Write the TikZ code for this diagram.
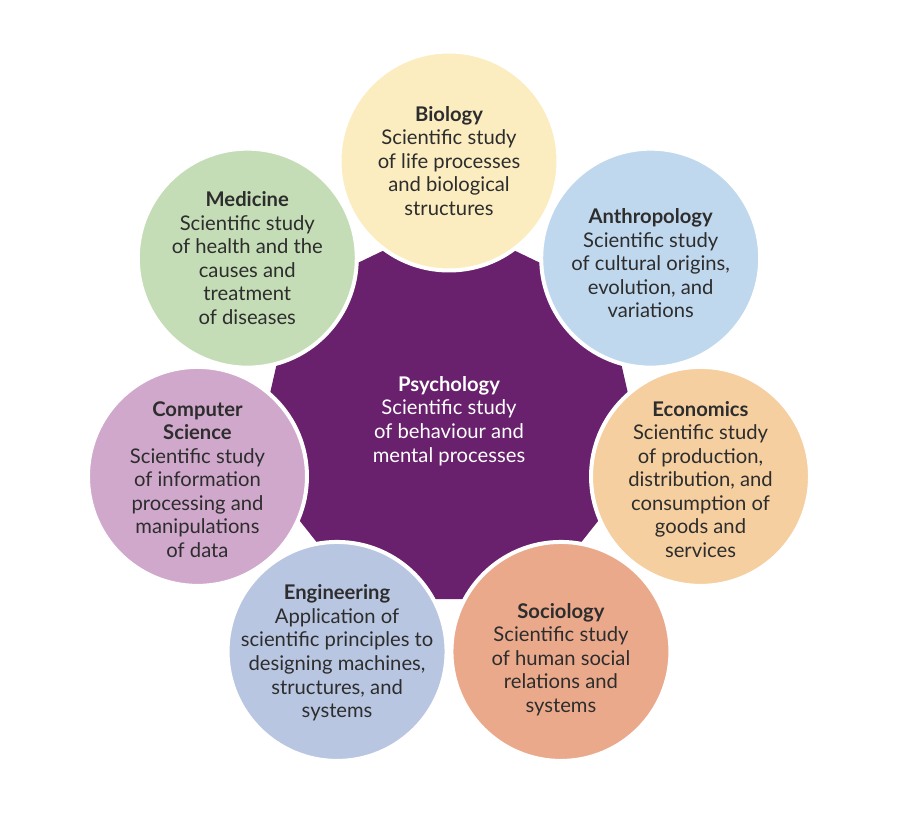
\documentclass[tikz,border=0pt]{standalone}
\usepackage{fontspec}
\setmainfont{Lato}
\usepackage{tikz}
\usetikzlibrary{shapes.geometric}
\definecolor{plum}{RGB}{105,32,109}
\definecolor{butter}{RGB}{251,237,192}
\definecolor{sky}{RGB}{192,216,238}
\definecolor{peach}{RGB}{245,207,160}
\definecolor{salmon}{RGB}{235,169,140}
\definecolor{periwinkle}{RGB}{185,198,226}
\definecolor{orchid}{RGB}{208,168,204}
\definecolor{sage}{RGB}{196,221,182}
\definecolor{inktext}{RGB}{45,45,45}

\begin{document}
\begin{tikzpicture}[
    disc/.style={circle, draw=white, line width=0.08cm, minimum size=4.38cm,
                 inner sep=0pt},
    blurb/.style={align=center, text=inktext, inner sep=0pt,
                  font=\fontsize{11.5}{13.4}\selectfont},
    core/.style={regular polygon, regular polygon sides=7, minimum size=8cm,
                 inner sep=0pt, outer sep=0pt, fill=plum}]
  \useasboundingbox[fill=white] (-8.98,-8.14) rectangle (9.06,8.38);
  % centre
  \node[core] (psych) at (0,0) {};
  \node[blurb, text=white] (psych-txt) at ([yshift=-0.04cm]psych.center)
    {\textbf{Psychology}\\Scientific study\\of behaviour and\\mental processes};
  % ring of neighbouring sciences
  \node[disc, fill=butter] (bio) at (90:5.16) {};
  \node[disc, fill=sky] (anthro) at (38.571:5.16) {};
  \node[disc, fill=peach] (econ) at (-12.857:5.16) {};
  \node[disc, fill=salmon] (socio) at (-64.286:5.16) {};
  \node[disc, fill=periwinkle] (engin) at (-115.714:5.16) {};
  \node[disc, fill=orchid] (compsci) at (-167.143:5.16) {};
  \node[disc, fill=sage] (medic) at (141.429:5.16) {};
  % texts
  \node[blurb] (bio-txt) at (bio.center)
    {\textbf{Biology}\\Scientific study\\of life processes\\and biological\\structures};
  \node[blurb] (anthro-txt) at ([yshift=-0.1cm]anthro.center)
    {\textbf{Anthropology}\\Scientific study\\of cultural origins,\\evolution, and\\variations};
  \node[blurb] (econ-txt) at ([yshift=-0.06cm]econ.center)
    {\textbf{Economics}\\Scientific study\\of production,\\distribution, and\\consumption of\\goods and\\services};
  \node[blurb] (socio-txt) at ([yshift=-0.16cm]socio.center)
    {\textbf{Sociology}\\Scientific study\\of human social\\relations and\\systems};
  \node[blurb] (engin-txt) at ([yshift=-0.03cm]engin.center)
    {\textbf{Engineering}\\Application of\\scientific principles to\\designing machines,\\structures, and\\systems};
  \node[blurb] (compsci-txt) at ([yshift=-0.06cm]compsci.center)
    {\textbf{Computer}\\\textbf{Science}\\Scientific study\\of information\\processing and\\manipulations\\of data};
  \node[blurb] (medic-txt) at (medic.center)
    {\textbf{Medicine}\\Scientific study\\of health and the\\causes and\\treatment\\of diseases};
\end{tikzpicture}
\end{document}
